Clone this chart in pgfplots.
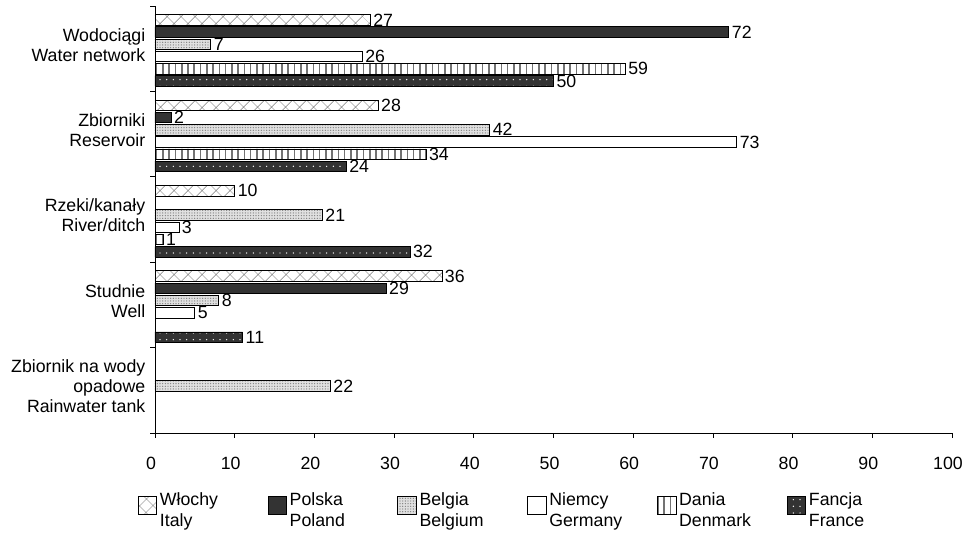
\documentclass[border=0pt]{standalone}
\usepackage{fontspec}
\setmainfont{Liberation Sans}
\usepackage{pgfplots}
\pgfplotsset{compat=1.18}
\usetikzlibrary{patterns,patterns.meta}
\newcommand\LE[2]{\begin{tabular}{@{}p{78.75pt}@{}}#1\\[0.5pt]#2\end{tabular}}
\pgfplotsset{sqlegend/.style={legend image code/.code={\draw[##1,draw=black,line width=0.6pt] (0pt,-7pt) rectangle (14pt,7pt);}}}
\begin{document}
\begin{tikzpicture}[font=\fontsize{13.3}{15}\selectfont]
\begin{axis}[
  name=ax,
  scale only axis,
  width=597.75pt, height=320.25pt,
  xbar, bar width=0.123,
  xmin=0, xmax=100,
  ymin=-0.5, ymax=4.5,
  axis lines=left,
  axis line style={-, line width=0.6pt},
  xtick={0,10,...,100},
  ytick={0,1,2,3,4},
  yticklabels={{Zbiornik na wody\\opadowe\\Rainwater tank},{Studnie\\Well},{Rzeki/kanały\\River/ditch},{Zbiorniki\\Reservoir},{Wodociągi\\Water network}},
  yticklabel style={align=right, yshift=3pt, font=\fontsize{13.3}{15}\selectfont},
  minor ytick={-0.5,0.5,...,4.5},
  major y tick style={draw=none},
  tick align=outside,
  major tick length=3.75pt, minor tick length=3.75pt,
  tick style={line width=0.6pt, black},
  xticklabel style={yshift=-11pt, xshift=-3pt, font=\fontsize{13.3}{15}\selectfont},
  /pgf/number format/assume math mode=true,
  nodes near coords,
  every node near coord/.append style={anchor=west, inner sep=2pt, font=\fontsize{13.3}{15}\selectfont},
  legend columns=6,
  legend style={draw=none, at={(0.467,-0.125)}, anchor=north, font=\fontsize{13.3}{15}\selectfont,
    /tikz/every even column/.append style={column sep=0pt}},
  every axis plot/.append style={draw=black, line width=0.6pt, sqlegend},
]
\addplot[bar shift=0.337, fill=white, postaction={pattern={Hatch[angle=45,distance=7.4pt,line width=0.5pt]}, pattern color=gray}]
  coordinates {(27,4) (28,3) (10,2) (36,1)};
\addlegendentry{\LE{Włochy}{Italy}}
\addplot[bar shift=0.194, fill=black!80]
  coordinates {(72,4) (2,3) (29,1)};
\addlegendentry{\LE{Polska}{Poland}}
\addplot[bar shift=0.051, fill=black!12, postaction={pattern={Dots[distance=2pt,radius=0.5pt]}, pattern color=black!50}]
  coordinates {(7,4) (42,3) (21,2) (8,1) (22,0)};
\addlegendentry{\LE{Belgia}{Belgium}}
\addplot[bar shift=-0.092, fill=white]
  coordinates {(26,4) (73,3) (3,2) (5,1)};
\addlegendentry{\LE{Niemcy}{Germany}}
\addplot[bar shift=-0.235, fill=white, postaction={pattern={Lines[angle=90,distance=4.7pt,line width=1.2pt]}, pattern color=black!55}]
  coordinates {(59,4) (34,3) (1,2)};
\addlegendentry{\LE{Dania}{Denmark}}
\addplot[bar shift=-0.378, fill=black!80, postaction={pattern={Dots[distance=5pt,radius=0.55pt]}, pattern color=white}]
  coordinates {(50,4) (24,3) (32,2) (11,1)};
\addlegendentry{\LE{Fancja}{France}}
\end{axis}
\pgfresetboundingbox
\path[use as bounding box] ([xshift=-116.25pt,yshift=-75pt]ax.south west) rectangle ([xshift=12.75pt,yshift=4.5pt]ax.north east);
\end{tikzpicture}
\end{document}
